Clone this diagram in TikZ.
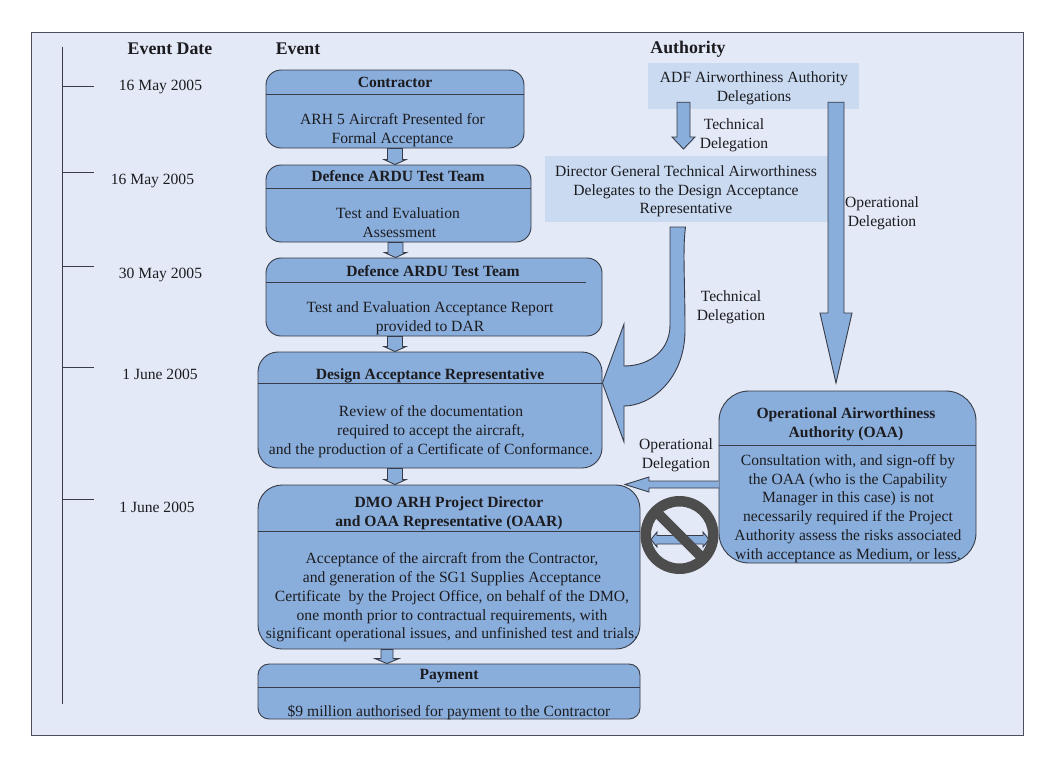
\documentclass[tikz,border=0pt]{standalone}
\usepackage{fontspec}
\setmainfont{Liberation Serif}
\usetikzlibrary{calc}
\definecolor{pagefill}{RGB}{227, 233, 246}
\definecolor{boxfill}{RGB}{138, 174, 220}
\definecolor{lightfill}{RGB}{201, 218, 241}
\definecolor{edge}{RGB}{55, 60, 72}
\definecolor{nosign}{RGB}{77, 77, 77}
\definecolor{ink}{RGB}{28, 28, 32}
% block arrow going down: start, tip, half shaft, half head, head length
\newcommand{\blockdown}[5]{%
  \draw[blockarrow] ($(#1)+(-#3,0)$) -- ($(#2)+(-#3,-#5)$) -- ($(#2)+(-#4,-#5)$) -- (#2)
    -- ($(#2)+(#4,-#5)$) -- ($(#2)+(#3,-#5)$) -- ($(#1)+(#3,0)$) -- cycle;}

\begin{document}
\begin{tikzpicture}[
    x = 1pt, y = -1pt,
    every node/.style = {inner sep = 0pt, text = ink, font = \fontsize{15.6}{18.7}\selectfont, align = center},
    head/.style = {font = \fontsize{17.8}{18.7}\selectfont\bfseries},
    title/.style = {font = \fontsize{15.6}{18.7}\selectfont\bfseries},
    evbox/.style = {draw = edge, fill = boxfill, line width = 0.9pt, rounded corners = 15pt},
    authbox/.style = {fill = lightfill},
    rule/.style = {draw = edge, line width = 0.9pt},
    blockarrow/.style = {draw = edge, fill = boxfill, line width = 0.9pt, line join = miter},
]
\useasboundingbox (0,0) rectangle (1054,768);

\draw[draw = edge!90, fill = pagefill, line width = 0.8pt] (31,32) rectangle (1023,735);

% time line
\draw[rule] (62,47) -- (62,704);
\foreach \y in {86, 172, 266, 367, 499} {
  \draw[rule] (62,\y) -- (94,\y);
}

\node[head] (hdate) at (170,48.5) {Event Date};
\node[head] (hevent) at (298,48.5) {Event};
\node[head] (hauth) at (688,49) {Authority};

\node (date1) at (160.5,86.5) {16 May 2005};
\node (date2) at (152.5,180.5) {16 May 2005};
\node (date3) at (160.5,274.5) {30 May 2005};
\node (date4) at (160,374.5) {1 June 2005};
\node (date5) at (157,507) {1 June 2005};

% events
\node[evbox, minimum width = 258pt, minimum height = 78pt] (contractor) at (395,109) {};
\node[evbox, minimum width = 265pt, minimum height = 77pt] (test) at (398.5,203.5) {};
\node[evbox, minimum width = 336pt, minimum height = 78pt] (report) at (434,297) {};
\node[evbox, rounded corners = 20pt, minimum width = 344pt, minimum height = 116pt] (dar) at (430,410) {};
\node[evbox, rounded corners = 24pt, minimum width = 382pt, minimum height = 164pt] (dmo) at (449,567) {};
\node[evbox, rounded corners = 11pt, minimum width = 382pt, minimum height = 55pt] (payment) at (449,691.5) {};
\node[evbox, rounded corners = 30pt, minimum width = 257pt, minimum height = 172pt] (oaa) at (847.5,477) {};

\draw[rule] (contractor.west |- 0,94) -- (contractor.east |- 0,94);
\draw[rule] (test.west |- 0,188) -- (test.east |- 0,188);
\draw[rule] (report.west |- 0,282) -- (586,282);
\draw[rule] (dar.west |- 0,383) -- (dar.east |- 0,383);
\draw[rule] (dmo.west |- 0,531) -- (dmo.east |- 0,531);
\draw[rule] (payment.west |- 0,687) -- (payment.east |- 0,687);
\draw[rule] (oaa.west |- 0,445) -- (oaa.east |- 0,445);

\node[title] (contractortitle) at (395,82.5) {Contractor};
\node (contractortext) at (392.5,130) {ARH 5 Aircraft Presented for\\Formal Acceptance};
\node[title] (testtitle) at (398,176.5) {Defence ARDU Test Team};
\node (testtext) at (398,223) {Test and Evaluation\\\hspace*{3pt}Assessment};
\node[title] (reporttitle) at (433,271) {Defence ARDU Test Team};
\node (reporttext) at (430,318) {Test and Evaluation Acceptance Report\\provided to DAR};
\node[title] (dartitle) at (430,375.5) {Design Acceptance Representative};
\node (dartext) at (431,431.5) {Review of the documentation\\required to accept the aircraft,\\and the production of a Certificate of Conformance.};
\node[title] (dmotitle) at (449,513.5) {DMO ARH Project Director\\and OAA Representative (OAAR)};
\node (dmotext) at (452,597.5) {Acceptance of the aircraft from the Contractor,\\and generation of the SG1 Supplies Acceptance\\Certificate~ by the Project Office, on behalf of the DMO,\\one month prior to contractual requirements, with\\significant operational issues, and unfinished test and trials.};
\node[title] (paytitle) at (449,676) {Payment};
\node (paytext) at (449,712.5) {\$9 million authorised for payment to the Contractor};
\node[title] (oaatitle) at (846,424) {Operational Airworthiness\\Authority (OAA)};
\node (oaatext) at (848,508.5) {Consultation with, and sign-off by\\the OAA (who is the Capability\\Manager in this case) is not\\necessarily required if the Project\\Authority assess the risks associated\\with acceptance as Medium, or less.};

% authority
\node[authbox, minimum width = 211pt, minimum height = 46pt] (adf) at (753.5,86) {};
\node[authbox, minimum width = 283pt, minimum height = 66pt] (dgta) at (686.5,189) {};
\node (adftext) at (754,88.5) {ADF Airworthiness Authority\\Delegations};
\node (dgtatext) at (686,191.5) {Director General Technical Airworthiness\\Delegates to the Design Acceptance\\Representative};

\node (techa) at (734,135) {Technical\\Delegation};
\node (techb) at (731,307) {Technical\\Delegation};
\node (opa) at (882,213.5) {Operational\\Delegation};
\node (opb) at (676,455.5) {Operational\\Delegation};

% small arrows down the events
\blockdown{contractor.south}{contractor.south |- test.north}{7.5}{11}{5}
\blockdown{$(test.south)+(-3,0)$}{$(test.south |- report.north)+(-3,0)$}{7.5}{11}{5}
\blockdown{$(report.south)+(-39,0)$}{$(report.south |- dar.north)+(-39,0)$}{7.5}{11}{5}
\blockdown{$(dar.south)+(-35,0)$}{$(dar.south |- dmo.north)+(-35,0)$}{7.5}{11}{5}
\blockdown{$(dmo.south)+(-62,0)$}{$(dmo.south |- payment.north)+(-62,0)$}{6}{12}{5}

% delegation arrows
\coordinate (techtip) at (683.5,149);
\coordinate (optip) at (836,383);
\blockdown{$(adf.south -| techtip)+(0,-7)$}{techtip}{6.5}{11.5}{12}
\blockdown{$(adf.south -| optip)+(0,-7)$}{optip}{8}{16}{70}

\coordinate (curvetip) at (dar.east |- 0,383);
\draw[blockarrow] (670,227) -- (685.5,227) .. controls (682.5,250) and (685,280) .. (685,330)
  .. controls (685,380) and (650,406) .. (624,406) -- (624,442) -- (curvetip) -- (624,324) -- (624,366)
  .. controls (650,366) and (670,350) .. (670,325) -- cycle;

\coordinate (oaaleft) at (oaa.west |- 0,484.5);
\draw[blockarrow] (oaaleft) ++(0,-3.5) -- (649,481) -- (649,477) -- (625,484.5) -- (649,492) -- (649,488) -- (719,488);

% blocked path
\node[minimum size = 78pt, circle, draw = none] (block) at (679.5,535) {};
\draw[blockarrow] (651,539.5) -- (657,532) -- (657,535.5) -- (703,535.5) -- (703,532) -- (709,539.5)
  -- (703,547) -- (703,544) -- (657,544) -- (657,547) -- cycle;
\fill[nosign, even odd rule] (block) circle (39) (block) circle (28.5);
\draw[nosign, line width = 10pt] ($(block)+(45:34)$) -- ($(block)+(225:34)$);

\end{tikzpicture}
\end{document}
